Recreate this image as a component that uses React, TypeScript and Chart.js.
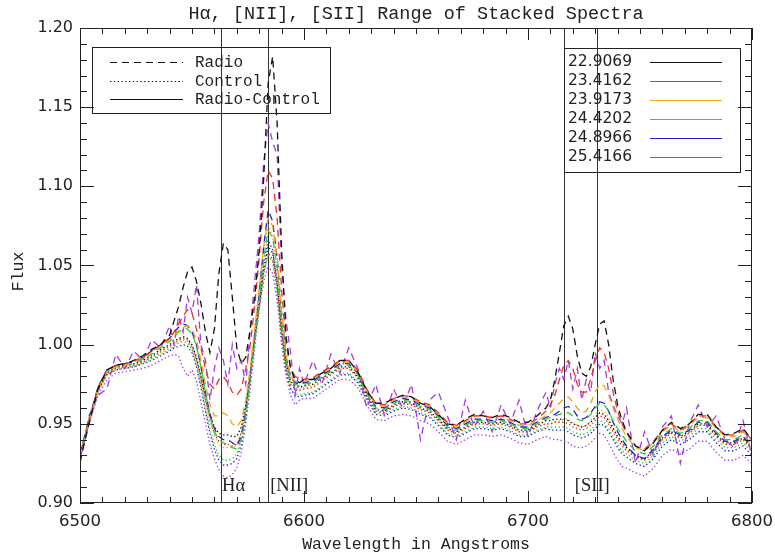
import { useEffect, useRef } from 'react';
import { Chart, registerables } from 'chart.js';

Chart.register(...registerables);

// ---------------- data ----------------
const WAVELENGTH = [
  6500, 6504, 6508, 6512, 6516, 6520, 6524, 6528, 6532, 6536, 6540,
  6542, 6544, 6546, 6548, 6550, 6552, 6554, 6556, 6558, 6560, 6562, 6564, 6566, 6568, 6570,
  6572, 6574, 6576, 6578, 6580, 6582, 6584, 6586, 6588, 6590, 6592, 6594, 6596, 6598, 6600,
  6604, 6608, 6612, 6616, 6620, 6624, 6628, 6632, 6636, 6640, 6644, 6648, 6652, 6656, 6660,
  6664, 6668, 6672, 6676, 6680, 6684, 6688, 6692, 6696, 6700, 6704, 6708,
  6710, 6712, 6714, 6716, 6718, 6720, 6722, 6724, 6726, 6728, 6730, 6732, 6734, 6736, 6738,
  6740, 6742, 6744,
  6748, 6752, 6756, 6760, 6764, 6768, 6772, 6776, 6780, 6784, 6788, 6792, 6796, 6800,
];

const SERIES_LABELS = ['22.9069', '23.4162', '23.9173', '24.4202', '24.8966', '25.4166'];
const SERIES_COLORS = ['#111111', '#e8302e', '#f2a516', '#2ecc40', '#2222c8', '#a53be0'];

// Radio (dashed)
const RADIO_22_9069 = [
  0.926, 0.950, 0.972, 0.984, 0.987, 0.988, 0.990, 0.993, 0.997, 1.000, 1.006,
  1.015, 1.024, 1.036, 1.046, 1.049, 1.040, 1.026, 1.008, 0.995, 1.010,
  1.045, 1.064, 1.060, 1.030, 0.998, 0.988, 0.992, 1.010, 1.030, 1.060,
  1.105, 1.165, 1.182, 1.140, 1.060, 1.005, 0.985, 0.978, 0.976, 0.978,
  0.978, 0.982, 0.985, 0.990, 0.990, 0.983, 0.971, 0.963, 0.963, 0.966,
  0.968, 0.967, 0.963, 0.961, 0.956, 0.950, 0.949, 0.953, 0.956, 0.955,
  0.954, 0.956, 0.954, 0.951, 0.951, 0.955, 0.960,
  0.965, 0.978, 0.995, 1.012, 1.018, 1.010, 0.993, 0.982, 0.980, 0.986,
  1.000, 1.013, 1.015, 1.000, 0.978, 0.962, 0.952, 0.945,
  0.936, 0.933, 0.938, 0.946, 0.951, 0.947, 0.950, 0.956, 0.956, 0.948, 0.943, 0.944, 0.947, 0.940,
];
const RADIO_23_4162 = [
  0.928, 0.951, 0.973, 0.984, 0.987, 0.988, 0.990, 0.992, 0.996, 1.000, 1.004,
  1.008, 1.013, 1.018, 1.022, 1.020, 1.010, 0.998, 0.985, 0.975, 0.972,
  0.978, 0.980, 0.976, 0.970, 0.968, 0.972, 0.985, 1.000, 1.025, 1.055,
  1.090, 1.110, 1.105, 1.080, 1.035, 1.000, 0.985, 0.980, 0.978, 0.978,
  0.979, 0.983, 0.986, 0.990, 0.990, 0.984, 0.972, 0.963, 0.962, 0.966,
  0.968, 0.967, 0.964, 0.962, 0.957, 0.951, 0.949, 0.952, 0.955, 0.955,
  0.954, 0.955, 0.953, 0.950, 0.950, 0.953, 0.958,
  0.962, 0.968, 0.978, 0.987, 0.990, 0.985, 0.975, 0.970, 0.970, 0.978,
  0.990, 0.998, 0.995, 0.985, 0.970, 0.958, 0.950, 0.944,
  0.936, 0.934, 0.939, 0.946, 0.950, 0.946, 0.950, 0.955, 0.955, 0.948, 0.943, 0.943, 0.946, 0.940,
];
const RADIO_23_9173 = [
  0.929, 0.951, 0.972, 0.983, 0.986, 0.987, 0.989, 0.992, 0.995, 0.999, 1.003,
  1.006, 1.009, 1.011, 1.012, 1.010, 1.003, 0.990, 0.975, 0.962, 0.955,
  0.955, 0.957, 0.955, 0.950, 0.948, 0.952, 0.965, 0.985, 1.010, 1.035,
  1.062, 1.080, 1.075, 1.055, 1.020, 0.993, 0.980, 0.977, 0.976, 0.977,
  0.978, 0.982, 0.985, 0.989, 0.989, 0.983, 0.971, 0.962, 0.961, 0.965,
  0.967, 0.966, 0.963, 0.961, 0.956, 0.950, 0.948, 0.951, 0.955, 0.955,
  0.953, 0.955, 0.952, 0.949, 0.949, 0.952, 0.955,
  0.957, 0.960, 0.963, 0.966, 0.967, 0.964, 0.960, 0.957, 0.958, 0.963,
  0.970, 0.975, 0.974, 0.968, 0.960, 0.953, 0.947, 0.942,
  0.935, 0.933, 0.938, 0.945, 0.949, 0.945, 0.949, 0.954, 0.954, 0.947, 0.942, 0.942, 0.945, 0.939,
];
const RADIO_24_4202 = [
  0.930, 0.952, 0.972, 0.983, 0.986, 0.987, 0.988, 0.991, 0.994, 0.998, 1.002,
  1.005, 1.008, 1.010, 1.010, 1.007, 0.999, 0.986, 0.970, 0.955, 0.945,
  0.940, 0.938, 0.937, 0.935, 0.934, 0.940, 0.955, 0.978, 1.002, 1.028,
  1.055, 1.072, 1.068, 1.048, 1.015, 0.990, 0.978, 0.975, 0.974, 0.975,
  0.976, 0.980, 0.983, 0.987, 0.987, 0.981, 0.969, 0.960, 0.959, 0.963,
  0.965, 0.964, 0.961, 0.959, 0.954, 0.948, 0.946, 0.949, 0.952, 0.952,
  0.951, 0.952, 0.950, 0.947, 0.947, 0.950, 0.953,
  0.954, 0.955, 0.956, 0.957, 0.957, 0.955, 0.953, 0.952, 0.953, 0.956,
  0.960, 0.963, 0.962, 0.958, 0.952, 0.947, 0.943, 0.939,
  0.933, 0.931, 0.936, 0.943, 0.947, 0.944, 0.947, 0.952, 0.952, 0.945, 0.940, 0.940, 0.943, 0.937,
];
const RADIO_24_8966 = [
  0.931, 0.953, 0.973, 0.984, 0.987, 0.988, 0.989, 0.992, 0.996, 1.000, 1.004,
  1.008, 1.011, 1.013, 1.012, 1.008, 1.000, 0.986, 0.970, 0.956, 0.947,
  0.942, 0.940, 0.940, 0.938, 0.936, 0.942, 0.957, 0.980, 1.005, 1.032,
  1.062, 1.085, 1.078, 1.055, 1.020, 0.992, 0.980, 0.976, 0.975, 0.976,
  0.977, 0.981, 0.984, 0.988, 0.988, 0.982, 0.970, 0.961, 0.960, 0.964,
  0.966, 0.965, 0.962, 0.960, 0.955, 0.949, 0.947, 0.950, 0.953, 0.953,
  0.952, 0.953, 0.951, 0.948, 0.948, 0.951, 0.954,
  0.955, 0.956, 0.958, 0.960, 0.961, 0.959, 0.955, 0.953, 0.954, 0.957,
  0.961, 0.964, 0.963, 0.958, 0.951, 0.945, 0.940, 0.936,
  0.930, 0.928, 0.934, 0.942, 0.946, 0.943, 0.946, 0.951, 0.951, 0.944, 0.939, 0.939, 0.942, 0.936,
];
const RADIO_25_4166 = [
  0.925, 0.955, 0.968, 0.972, 0.994, 0.985, 0.996, 0.990, 1.003, 0.998, 1.012,
  1.000, 1.018, 1.008, 1.030, 1.020, 1.038, 1.000, 0.990, 0.965, 0.985,
  0.998, 0.990, 0.975, 1.000, 0.985, 0.990, 0.975, 1.010, 1.040, 1.070,
  1.115, 1.140, 1.128, 1.120, 1.050, 1.015, 0.995, 0.968, 0.985, 0.975,
  0.990, 0.975, 0.994, 0.982, 0.998, 0.985, 0.960, 0.975, 0.955, 0.972,
  0.960, 0.975, 0.940, 0.965, 0.970, 0.955, 0.940, 0.965, 0.948, 0.958,
  0.945, 0.962, 0.950, 0.965, 0.942, 0.958, 0.970,
  0.960, 0.975, 0.985, 0.978, 0.990, 0.972, 0.985, 0.965, 0.978, 0.970,
  0.995, 0.985, 0.990, 0.970, 0.962, 0.955, 0.950, 0.960,
  0.925, 0.945, 0.930, 0.948, 0.955, 0.925, 0.950, 0.962, 0.948, 0.955, 0.940, 0.935, 0.952, 0.930,
];

// Control (dotted)
const CONTROL_22_9069 = [
  0.929, 0.951, 0.972, 0.983, 0.986, 0.987, 0.988, 0.990, 0.993, 0.997, 1.000,
  1.002, 1.004, 1.005, 1.004, 1.000, 0.992, 0.980, 0.967, 0.956, 0.948,
  0.944, 0.943, 0.943, 0.942, 0.942, 0.948, 0.962, 0.982, 1.005, 1.025,
  1.048, 1.062, 1.058, 1.040, 1.010, 0.988, 0.977, 0.974, 0.973, 0.974,
  0.975, 0.979, 0.982, 0.986, 0.986, 0.980, 0.968, 0.959, 0.958, 0.962,
  0.964, 0.963, 0.960, 0.958, 0.953, 0.947, 0.945, 0.948, 0.951, 0.951,
  0.950, 0.951, 0.949, 0.946, 0.946, 0.949, 0.952,
  0.952, 0.953, 0.953, 0.953, 0.952, 0.950, 0.949, 0.948, 0.949, 0.951,
  0.954, 0.957, 0.956, 0.952, 0.947, 0.942, 0.938, 0.935,
  0.930, 0.928, 0.933, 0.941, 0.945, 0.942, 0.945, 0.950, 0.950, 0.943, 0.938, 0.938, 0.941, 0.935,
];
const CONTROL_23_4162 = [
  0.928, 0.950, 0.971, 0.982, 0.985, 0.986, 0.987, 0.989, 0.992, 0.996, 0.999,
  1.001, 1.003, 1.004, 1.003, 0.999, 0.991, 0.979, 0.965, 0.953, 0.944,
  0.939, 0.937, 0.937, 0.936, 0.937, 0.944, 0.959, 0.980, 1.003, 1.024,
  1.045, 1.058, 1.054, 1.036, 1.007, 0.986, 0.975, 0.972, 0.971, 0.972,
  0.973, 0.977, 0.981, 0.985, 0.985, 0.979, 0.967, 0.958, 0.957, 0.961,
  0.963, 0.962, 0.959, 0.957, 0.952, 0.946, 0.944, 0.947, 0.950, 0.950,
  0.949, 0.950, 0.948, 0.945, 0.945, 0.948, 0.950,
  0.950, 0.951, 0.951, 0.951, 0.950, 0.948, 0.947, 0.946, 0.947, 0.949,
  0.952, 0.955, 0.954, 0.950, 0.945, 0.940, 0.936, 0.933,
  0.929, 0.927, 0.932, 0.940, 0.944, 0.941, 0.944, 0.949, 0.949, 0.942, 0.937, 0.937, 0.940, 0.934,
];
const CONTROL_23_9173 = [
  0.930, 0.951, 0.971, 0.982, 0.985, 0.986, 0.987, 0.989, 0.992, 0.995, 0.998,
  1.000, 1.002, 1.003, 1.002, 0.998, 0.990, 0.978, 0.964, 0.952, 0.943,
  0.937, 0.935, 0.935, 0.935, 0.936, 0.945, 0.962, 0.985, 1.010, 1.035,
  1.060, 1.075, 1.068, 1.045, 1.012, 0.988, 0.976, 0.973, 0.972, 0.973,
  0.974, 0.978, 0.981, 0.985, 0.985, 0.979, 0.967, 0.958, 0.957, 0.961,
  0.963, 0.962, 0.959, 0.957, 0.952, 0.946, 0.944, 0.947, 0.950, 0.950,
  0.949, 0.950, 0.948, 0.945, 0.945, 0.948, 0.950,
  0.950, 0.951, 0.952, 0.953, 0.953, 0.951, 0.949, 0.948, 0.949, 0.952,
  0.956, 0.959, 0.958, 0.954, 0.948, 0.942, 0.938, 0.934,
  0.929, 0.927, 0.932, 0.940, 0.944, 0.941, 0.944, 0.949, 0.949, 0.942, 0.937, 0.937, 0.940, 0.934,
];
const CONTROL_24_4202 = [
  0.930, 0.951, 0.970, 0.981, 0.984, 0.985, 0.986, 0.988, 0.991, 0.994, 0.997,
  0.999, 1.001, 1.002, 1.001, 0.997, 0.988, 0.975, 0.960, 0.947, 0.937,
  0.930, 0.927, 0.927, 0.928, 0.931, 0.940, 0.956, 0.978, 1.002, 1.025,
  1.045, 1.057, 1.052, 1.033, 1.004, 0.983, 0.972, 0.969, 0.968, 0.969,
  0.970, 0.974, 0.978, 0.982, 0.982, 0.977, 0.966, 0.957, 0.956, 0.959,
  0.961, 0.960, 0.957, 0.955, 0.950, 0.944, 0.942, 0.945, 0.948, 0.948,
  0.947, 0.948, 0.946, 0.943, 0.943, 0.946, 0.948,
  0.948, 0.948, 0.948, 0.948, 0.947, 0.945, 0.944, 0.943, 0.944, 0.946,
  0.949, 0.952, 0.951, 0.947, 0.942, 0.937, 0.933, 0.931,
  0.927, 0.925, 0.930, 0.938, 0.942, 0.939, 0.942, 0.947, 0.947, 0.940, 0.935, 0.935, 0.938, 0.932,
];
const CONTROL_24_8966 = [
  0.931, 0.952, 0.971, 0.981, 0.984, 0.985, 0.986, 0.988, 0.990, 0.993, 0.996,
  0.998, 0.999, 1.000, 0.999, 0.995, 0.986, 0.973, 0.958, 0.944, 0.934,
  0.927, 0.924, 0.924, 0.925, 0.928, 0.937, 0.954, 0.977, 1.003, 1.028,
  1.052, 1.066, 1.060, 1.038, 1.006, 0.984, 0.972, 0.968, 0.967, 0.968,
  0.969, 0.973, 0.977, 0.981, 0.981, 0.976, 0.965, 0.956, 0.955, 0.958,
  0.960, 0.959, 0.956, 0.954, 0.949, 0.943, 0.941, 0.944, 0.947, 0.947,
  0.946, 0.947, 0.945, 0.942, 0.942, 0.945, 0.947,
  0.946, 0.946, 0.946, 0.946, 0.945, 0.943, 0.942, 0.941, 0.942, 0.944,
  0.947, 0.950, 0.949, 0.945, 0.940, 0.935, 0.931, 0.929,
  0.925, 0.923, 0.928, 0.936, 0.940, 0.937, 0.940, 0.945, 0.945, 0.938, 0.933, 0.933, 0.936, 0.930,
];
const CONTROL_25_4166 = [
  0.932, 0.950, 0.968, 0.978, 0.982, 0.983, 0.984, 0.985, 0.987, 0.990, 0.993,
  0.994, 0.993, 0.985, 0.980, 0.984, 0.977, 0.964, 0.950, 0.937, 0.928,
  0.921, 0.917, 0.916, 0.918, 0.922, 0.932, 0.950, 0.972, 0.998, 1.022,
  1.040, 1.050, 1.045, 1.028, 1.000, 0.980, 0.968, 0.962, 0.965, 0.966,
  0.966, 0.970, 0.974, 0.978, 0.978, 0.973, 0.962, 0.953, 0.952, 0.955,
  0.956, 0.955, 0.952, 0.950, 0.945, 0.939, 0.937, 0.940, 0.943, 0.943,
  0.942, 0.943, 0.941, 0.938, 0.937, 0.940, 0.942,
  0.941, 0.940, 0.940, 0.939, 0.938, 0.936, 0.935, 0.935, 0.936, 0.938,
  0.941, 0.944, 0.943, 0.938, 0.932, 0.927, 0.923, 0.922,
  0.919, 0.917, 0.922, 0.930, 0.934, 0.931, 0.934, 0.939, 0.939, 0.932, 0.927, 0.927, 0.930, 0.925,
];

const RADIO_SERIES = [RADIO_22_9069, RADIO_23_4162, RADIO_23_9173, RADIO_24_4202, RADIO_24_8966, RADIO_25_4166];
const CONTROL_SERIES = [CONTROL_22_9069, CONTROL_23_4162, CONTROL_23_9173, CONTROL_24_4202, CONTROL_24_8966, CONTROL_25_4166];

const STYLE_LABELS = ['Radio', 'Control', 'Radio-Control'];
const LINE_MARKS = [6563, 6584, 6716, 6731];
const LINE_NAMES = ['Hα', '[NII]', '[SII]'];
const X_TICKS = [6500, 6600, 6700, 6800];
const Y_TICKS = [0.90, 0.95, 1.00, 1.05, 1.10, 1.15, 1.20];
const TITLE = 'Hα, [NII], [SII] Range of Stacked Spectra';
const X_TITLE = 'Wavelength in Angstroms';
const Y_TITLE = 'Flux';

// ---------------- styling ----------------
const INK = '#222';
const DASH = [7, 5];
const DOT = [1.4, 2.4];
const MONO = '"Liberation Mono", "DejaVu Sans Mono", monospace';
const SANS = '"DejaVu Sans", sans-serif';
const SERIF = '"Liberation Serif", "DejaVu Serif", serif';

const idlPlugin = {
  id: 'idlDecor',
  beforeDatasetsDraw(chart: any) {
    const { ctx, chartArea: a, scales } = chart;
    const x = scales.x;
    ctx.save();
    ctx.strokeStyle = '#333';
    ctx.lineWidth = 1;
    LINE_MARKS.forEach((w) => {
      const px = Math.round(x.getPixelForValue(w)) + 0.5;
      ctx.beginPath();
      ctx.moveTo(px, a.top);
      ctx.lineTo(px, a.bottom);
      ctx.stroke();
    });
    ctx.restore();
  },
  afterDatasetsDraw(chart: any) {
    const { ctx, chartArea: a, scales } = chart;
    const x = scales.x;
    const y = scales.y;
    ctx.save();
    ctx.strokeStyle = INK;
    ctx.lineWidth = 1;
    // frame
    ctx.strokeRect(a.left + 0.5, a.top + 0.5, a.right - a.left - 1, a.bottom - a.top - 1);
    // x ticks (inward, bottom and top)
    ctx.beginPath();
    for (let k = 0; k <= 30; k++) {
      const w = 6500 + k * 10;
      const px = Math.round(x.getPixelForValue(w)) + 0.5;
      const major = k % 10 === 0;
      const len = major ? 12 : 6;
      ctx.moveTo(px, a.bottom);
      ctx.lineTo(px, a.bottom - len);
      ctx.moveTo(px, a.top);
      ctx.lineTo(px, a.top + len);
    }
    // y ticks (inward, left and right)
    for (let k = 0; k <= 30; k++) {
      const v = 0.9 + k * 0.01;
      const py = Math.round(y.getPixelForValue(v)) + 0.5;
      const major = k % 5 === 0;
      const len = major ? 14 : 7;
      ctx.moveTo(a.left, py);
      ctx.lineTo(a.left + len, py);
      ctx.moveTo(a.right, py);
      ctx.lineTo(a.right - len, py);
    }
    ctx.stroke();

    // line identification labels
    ctx.fillStyle = INK;
    ctx.font = `18.5px ${SERIF}`;
    ctx.textBaseline = 'alphabetic';
    ctx.textAlign = 'left';
    const labY = a.bottom - 12;
    ctx.fillText(LINE_NAMES[0], x.getPixelForValue(LINE_MARKS[0]) + 1, labY);
    ctx.fillText(LINE_NAMES[1], x.getPixelForValue(LINE_MARKS[1]) + 2, labY);
    ctx.fillText(LINE_NAMES[2], x.getPixelForValue(LINE_MARKS[2]) + 11, labY);

    // left legend (line styles)
    ctx.strokeRect(92.5, 47.5, 238, 66);
    ctx.font = `16px ${MONO}`;
    ctx.textBaseline = 'middle';
    const styleDash = [DASH, DOT, []];
    STYLE_LABELS.forEach((lab, i) => {
      const ry = 62 + i * 18.5;
      ctx.save();
      ctx.setLineDash(styleDash[i]);
      ctx.strokeStyle = '#111';
      ctx.beginPath();
      ctx.moveTo(110, Math.round(ry) + 0.5);
      ctx.lineTo(183, Math.round(ry) + 0.5);
      ctx.stroke();
      ctx.restore();
      ctx.fillText(lab, 195, ry + 1);
    });

    // right legend (magnitudes)
    ctx.strokeRect(564.5, 48.5, 176, 124);
    ctx.font = `15.5px ${SANS}`;
    SERIES_LABELS.forEach((lab, i) => {
      const ry = 62 + i * 19;
      ctx.fillStyle = INK;
      ctx.fillText(lab, 568, ry);
      ctx.strokeStyle = SERIES_COLORS[i];
      ctx.beginPath();
      ctx.moveTo(650, Math.round(ry) + 0.5);
      ctx.lineTo(722, Math.round(ry) + 0.5);
      ctx.stroke();
    });

    // titles
    ctx.fillStyle = INK;
    ctx.textAlign = 'center';
    ctx.font = `18.5px ${MONO}`;
    ctx.fillText(TITLE, (a.left + a.right) / 2, 14);
    ctx.font = `16.5px ${MONO}`;
    ctx.fillText(X_TITLE, (a.left + a.right) / 2, 545);
    ctx.save();
    ctx.translate(19, (a.top + a.bottom) / 2 + 6);
    ctx.rotate(-Math.PI / 2);
    ctx.fillText(Y_TITLE, 0, 0);
    ctx.restore();
    ctx.restore();
  },
};

export default function App() {
  const ref = useRef<HTMLCanvasElement | null>(null);

  useEffect(() => {
    if (!ref.current) return;
    const datasets: any[] = [];
    RADIO_SERIES.forEach((s, i) => {
      datasets.push({
        label: `Radio ${SERIES_LABELS[i]}`,
        data: WAVELENGTH.map((w, j) => ({ x: w, y: s[j] })),
        borderColor: SERIES_COLORS[i],
        borderWidth: 1.3,
        borderDash: DASH,
        pointRadius: 0,
        tension: 0,
      });
    });
    CONTROL_SERIES.forEach((s, i) => {
      datasets.push({
        label: `Control ${SERIES_LABELS[i]}`,
        data: WAVELENGTH.map((w, j) => ({ x: w, y: s[j] })),
        borderColor: SERIES_COLORS[i],
        borderWidth: 1.3,
        borderDash: DOT,
        pointRadius: 0,
        tension: 0,
      });
    });

    const chart = new Chart(ref.current, {
      type: 'line',
      data: { datasets },
      options: {
        animation: false,
        responsive: false,
        layout: { padding: { left: 0, right: 23, top: 28, bottom: 0 } },
        plugins: { legend: { display: false }, tooltip: { enabled: false }, title: { display: false } },
        scales: {
          x: {
            type: 'linear',
            min: 6500,
            max: 6800,
            afterBuildTicks: (s: any) => { s.ticks = X_TICKS.map((v) => ({ value: v })); },
            afterFit: (s: any) => { s.height = 55; s.paddingLeft = 0; s.paddingRight = 0; },
            grid: { display: false, drawTicks: false },
            border: { display: false },
            ticks: {
              padding: 9,
              color: INK,
              font: { family: SANS, size: 16.5 },
              maxRotation: 0,
              callback: (v: any) => String(v),
            },
          },
          y: {
            type: 'linear',
            min: 0.9,
            max: 1.2,
            afterBuildTicks: (s: any) => { s.ticks = Y_TICKS.map((v) => ({ value: v })); },
            afterFit: (s: any) => { s.width = 80; s.paddingTop = 0; s.paddingBottom = 0; },
            grid: { display: false, drawTicks: false },
            border: { display: false },
            ticks: {
              padding: 7,
              color: INK,
              font: { family: SANS, size: 16 },
              callback: (v: any) => Number(v).toFixed(2),
            },
          },
        },
      },
      plugins: [idlPlugin],
    });
    return () => chart.destroy();
  }, []);

  return (
    <div style={{ position: 'absolute', left: 0, top: 0, width: 775, height: 558, background: '#fff' }}>
      <canvas ref={ref} width={775} height={558} />
    </div>
  );
}
